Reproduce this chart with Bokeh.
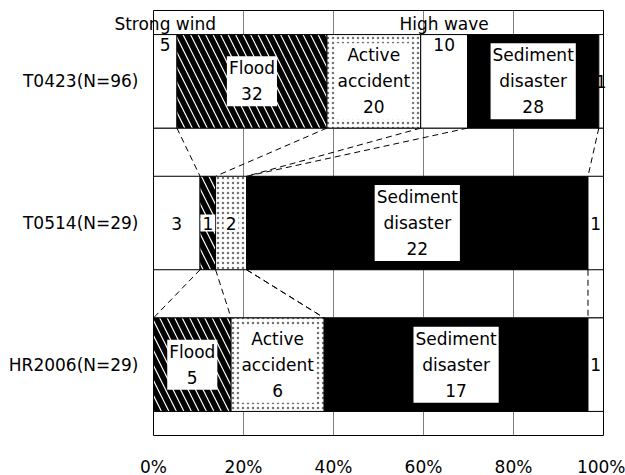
import numpy as np
from bokeh.plotting import figure
from bokeh.models import (Range1d, FixedTicker, ColumnDataSource, LinearAxis,
                          CustomJSTickFormatter, Grid)
from bokeh.core.properties import value
from bokeh.embed import file_html
from bokeh.resources import INLINE

# ---- data ----
categories = ["T0423(N=96)", "T0514(N=29)", "HR2006(N=29)"]
series_names = ["Strong wind", "Flood", "Active accident", "High wave",
                "Sediment disaster", "Other"]
strong_wind = [5, 3, 0]
flood = [32, 1, 5]
active_accident = [20, 2, 6]
high_wave = [10, 0, 0]
sediment_disaster = [28, 22, 17]
other = [1, 1, 1]
x_ticks = [0, 20, 40, 60, 80, 100]
x_tick_labels = ["0%", "20%", "40%", "60%", "80%", "100%"]
label_names = {"Flood": "Flood", "Active accident": "Active\naccident",
               "Sediment disaster": "Sediment\ndisaster"}
top_row_series = ["Strong wind", "High wave"]

series = [strong_wind, flood, active_accident, high_wave, sediment_disaster, other]
counts = np.array(series, dtype=float).T          # rows x series
totals = counts.sum(axis=1)
pct = counts / totals[:, None] * 100
cum = np.hstack([np.zeros((len(categories), 1)), np.cumsum(pct, axis=1)])
rows = [3, 2, 1]
H = 0.66
Y0, Y1 = 0.5, 3.5          # plotted y extent
X0, X1 = 0, 100            # plotted x extent (percent)

FONT = "DejaVu Sans"
FS = "17px"

W, HT = 625, 475
# frame covers the whole canvas; data area sits at px 153..603 x 10..435
px_x = (603 - 153) / (X1 - X0)
px_y = (435 - 10) / (Y1 - Y0)
x_range = Range1d(X0 - 153 / px_x, X1 + (W - 603) / px_x)
y_range = Range1d(Y0 - (HT - 435) / px_y, Y1 + 10 / px_y)

p = figure(width=W, height=HT, output_backend="svg", toolbar_location=None,
           x_range=x_range, y_range=y_range, x_axis_type=None, y_axis_type=None,
           min_border=0)
p.outline_line_color = None
p.background_fill_color = "white"
p.border_fill_color = "white"

# grids, bounded to the plotted area
edges = []
for r in rows:
    edges += [r - H / 2, r + H / 2]
xgrid = Grid(dimension=0, ticker=FixedTicker(ticks=[20, 40, 60, 80]),
             cross_bounds=(Y0, Y1), grid_line_color="#7f7f7f", grid_line_width=1)
ygrid = Grid(dimension=1, ticker=FixedTicker(ticks=edges),
             cross_bounds=(X0, X1), grid_line_color="#7f7f7f", grid_line_width=1)
p.add_layout(xgrid)
p.add_layout(ygrid)

# axes fixed at the edges of the plotted area
x_axis = LinearAxis(ticker=FixedTicker(ticks=x_ticks),
                    major_label_overrides={t: l for t, l in zip(x_ticks, x_tick_labels)},
                    fixed_location=Y0)
y_axis = LinearAxis(ticker=FixedTicker(ticks=rows),
                    major_label_overrides={r: c for r, c in zip(rows, categories)},
                    fixed_location=X0)
top_idx = [series_names.index(s) for s in top_row_series]
top_x = [float((cum[0, j] + cum[0, j + 1]) / 2) for j in top_idx]
top_axis = LinearAxis(ticker=FixedTicker(ticks=top_x),
                      formatter=CustomJSTickFormatter(
                          args=dict(names=top_row_series),
                          code="return names[index]"),
                      fixed_location=rows[0] + H / 2)
p.add_layout(x_axis, "below")
p.add_layout(y_axis, "left")
p.add_layout(top_axis, "above")

for ax in (x_axis, y_axis, top_axis):
    ax.axis_line_color = None
    ax.major_tick_line_color = None
    ax.minor_tick_line_color = None
    ax.major_tick_out = 0
    ax.major_tick_in = 0
    ax.minor_tick_out = 0
    ax.major_label_text_font = FONT
    ax.major_label_text_font_size = FS
    ax.major_label_text_color = "black"
x_axis.major_label_standoff = 21
y_axis.major_label_standoff = 15
top_axis.major_label_standoff = 1

# plot border
p.quad(left=[X0], right=[X1], bottom=[Y0], top=[Y1], fill_color=None,
       line_color="black", line_width=1)

styles = {
    "Strong wind": dict(fill_color="white"),
    "Flood": dict(fill_color="white", hatch_pattern="left_diagonal_line",
                  hatch_color="black", hatch_scale=15, hatch_weight=5.5),
    "Active accident": dict(fill_color="white", hatch_pattern="dot",
                            hatch_color="black", hatch_scale=5, hatch_alpha=0.55),
    "High wave": dict(fill_color="white"),
    "Sediment disaster": dict(fill_color="black"),
    "Other": dict(fill_color="white"),
}

# connector dashed lines
x0s, y0s, x1s, y1s = [], [], [], []
for i in range(len(rows) - 1):
    for k in range(1, len(series_names)):
        x0s.append(cum[i, k]); y0s.append(rows[i] - H / 2)
        x1s.append(cum[i + 1, k]); y1s.append(rows[i + 1] + H / 2)
p.segment(x0=x0s, y0=y0s, x1=x1s, y1=y1s, line_color="black",
          line_width=1, line_dash="6 4")

# bars
for j, name in enumerate(series_names):
    ys, ls, rs = [], [], []
    for i in range(len(rows)):
        if counts[i, j] > 0:
            ys.append(rows[i]); ls.append(cum[i, j]); rs.append(cum[i, j + 1])
    if ys:
        p.hbar(y=ys, left=ls, right=rs, height=H, line_color="black",
               line_width=1, **styles[name])

# labels
boxed = dict(x=[], y=[], t=[])
plain_mid = dict(x=[], y=[], t=[])
plain_top = dict(x=[], y=[], t=[])
for i in range(len(rows)):
    for j, name in enumerate(series_names):
        v = int(counts[i, j])
        if v == 0:
            continue
        xc = (cum[i, j] + cum[i, j + 1]) / 2
        if name in label_names:
            txt = f"{label_names[name]}\n{v}" if pct[i, j] >= 15 else f"{v}"
            boxed["x"].append(xc); boxed["y"].append(rows[i]); boxed["t"].append(txt)
        elif name in top_row_series and i == 0:
            plain_top["x"].append(xc); plain_top["y"].append(rows[i] + H / 2)
            plain_top["t"].append(str(v))
        else:
            plain_mid["x"].append(xc); plain_mid["y"].append(rows[i])
            plain_mid["t"].append(str(v))

p.text(x="x", y="y", text="t", source=ColumnDataSource(boxed),
       text_font=value(FONT), text_font_size=FS, text_align="center",
       text_baseline="middle", text_line_height=1.3, text_color="black",
       background_fill_color="white", padding=2)
p.text(x="x", y="y", text="t", source=ColumnDataSource(plain_mid),
       text_font=value(FONT), text_font_size=FS, text_align="center",
       text_baseline="middle", text_color="black")
p.text(x="x", y="y", text="t", source=ColumnDataSource(plain_top),
       text_font=value(FONT), text_font_size=FS, text_align="center",
       text_baseline="top", y_offset=3, text_color="black")

open("out.html", "w").write(file_html(p, INLINE))
